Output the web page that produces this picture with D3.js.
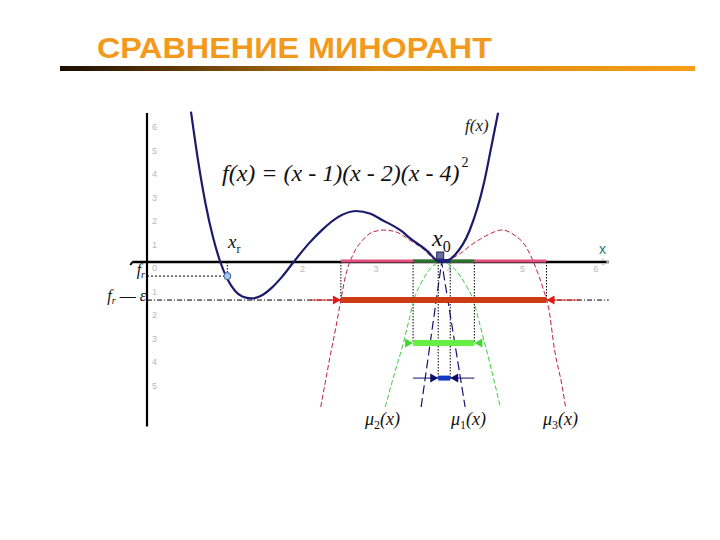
<!DOCTYPE html>
<html><head><meta charset="utf-8">
<script src="https://cdn.jsdelivr.net/npm/d3@7"></script>
<style>html,body{margin:0;padding:0;background:#fff;} svg{display:block;}</style>
</head><body>
<svg id="chart" width="720" height="540"></svg>
<script>
// ---------- data ----------
const titleText = "СРАВНЕНИЕ МИНОРАНТ";
const formulaText = "f(x) = (x - 1)(x - 2)(x - 4)";
const fX = [0.6,0.7,0.8,0.9,1.0,1.1,1.2,1.3,1.42,1.55,1.7,1.85,2.0,2.2,2.4,2.6,2.85,3.05,3.2,3.47,3.6,3.84,3.93,4.0,4.1,4.2,4.4,4.6,4.7,4.79];
const fY = [6.4,4.25,2.46,1.06,0,-0.74,-1.22,-1.47,-1.55,-1.45,-1.1,-0.6,0,0.76,1.4,1.9,2.17,2.05,1.8,1.32,0.98,0.42,0.12,0,0.06,0.3,1.33,3.4,4.95,6.35];
const mu3X = [2.37,2.438,2.507,2.575,2.644,2.712,2.808,2.945,3.082,3.233,3.397,3.6,3.78,3.9,4.0,4.1,4.2,4.3,4.42,4.55,4.66,4.84,5.01,5.18,5.29,5.41,5.48,5.56,5.66,5.71];
const mu3Y = [-6.17,-5.02,-3.87,-2.81,-1.62,-0.55,0.30,0.94,1.28,1.36,1.28,0.9,0.52,0.16,0,0.06,0.22,0.42,0.72,0.98,1.17,1.36,1.15,0.6,-0.13,-1.19,-1.96,-3.74,-5.23,-6.17];
const mu2X = [3.25,3.38,3.49,3.58,3.64,3.74,3.83,3.93,4.02,4.12,4.22,4.33,4.45,4.56,4.70,4.82];
const mu2Y = [-6.17,-4.7,-3.53,-2.4,-1.62,-0.9,-0.42,-0.1,0,-0.1,-0.38,-0.88,-1.62,-2.89,-4.6,-6.17];
const mu1X = [3.74,4.02,4.34];
const mu1Y = [-6.17,0,-6.17];
const muNames = ["μ2(x)","μ1(x)","μ3(x)"];
const intervalLo = [2.645, 3.63, 3.973];   // red, green, navy
const intervalHi = [5.45, 4.466, 4.137];
const intervalLevel = [-1.62, -3.45, -4.94];
const outerLo = [2.23, null, 3.63];
const outerHi = [5.90, null, 4.466];
const xr = 1.096, fr = -0.6, frEps = -1.62, x0 = 4.0;
const yTicks = [6,5,4,3,2,1,0,-1,-2,-3,-4,-5];
const yTickLabels = ["6","5","4","3","2","1","0","1","2","3","4","5"];
const xTicks = [2,3,4,5,6];
const xTickLabels = ["2","3","4","5","6"];

// ---------- scales ----------
const svg = d3.select("#chart");
const x = d3.scaleLinear().domain([0, 6]).range([147, 147 + 6 * 73.3]);
const y = d3.scaleLinear().domain([0, 6]).range([262, 262 - 6 * 23.5]);

// ---------- title ----------
const defs = svg.append("defs");
const grad = defs.append("linearGradient").attr("id","bar").attr("x1","0").attr("x2","1");
grad.append("stop").attr("offset","0").attr("stop-color","#1a0c00");
grad.append("stop").attr("offset","0.5").attr("stop-color","#d5850f");
grad.append("stop").attr("offset","1").attr("stop-color","#f59e16");
svg.append("text").attr("x",97).attr("y",58)
  .attr("font-family","'Liberation Sans', Arial, sans-serif").attr("font-weight","bold")
  .attr("font-size",30).attr("fill","#f39a1c")
  .attr("textLength",395).attr("lengthAdjust","spacingAndGlyphs").text(titleText);
svg.append("rect").attr("x",60).attr("y",66).attr("width",635).attr("height",5).attr("fill","url(#bar)");

// ---------- axes ----------
const axisG = svg.append("g");
axisG.append("line").attr("x1",x(0)).attr("x2",x(0)).attr("y1",y(6.34)).attr("y2",y(-7.0))
  .attr("stroke","#000").attr("stroke-width",2.2);
axisG.append("line").attr("x1",x(-0.2)).attr("x2",x(6.3)).attr("y1",y(0)).attr("y2",y(0))
  .attr("stroke","#000").attr("stroke-width",2.5);
axisG.append("path").attr("d",`M${x(-0.2)},${y(0)} l-2,3`).attr("stroke","#000").attr("stroke-width",2).attr("fill","none");
axisG.append("path").attr("d",`M${x(6.3)-7},${y(0)-3} L${x(6.3)},${y(0)} L${x(6.3)-7},${y(0)+3}`)
  .attr("stroke","#bbb").attr("fill","none").attr("stroke-width",1);

const tickFont = "'Liberation Sans', Arial, sans-serif";
axisG.selectAll("text.yt").data(yTicks).join("text").attr("class","yt")
  .attr("x", x(0) + 5).attr("y", d => y(d) + 7).attr("dominant-baseline","middle")
  .attr("font-family",tickFont).attr("font-size",9).attr("fill","#b8b8b8")
  .text((d,i) => yTickLabels[i]);
axisG.selectAll("text.xt").data(xTicks).join("text").attr("class","xt")
  .attr("x", d => x(d) + 9).attr("y", y(0) + 8).attr("text-anchor","middle").attr("dominant-baseline","middle")
  .attr("font-family",tickFont).attr("font-size",9).attr("fill","#b8b8b8")
  .text((d,i) => xTickLabels[i]);

// ---------- helper lines ----------
svg.append("line").attr("x1",x(0)).attr("x2",x(xr)).attr("y1",y(fr)).attr("y2",y(fr))
  .attr("stroke","#000").attr("stroke-width",1).attr("stroke-dasharray","2,2");
svg.append("line").attr("x1",x(xr)).attr("x2",x(xr)).attr("y1",y(0)).attr("y2",y(fr))
  .attr("stroke","#000").attr("stroke-width",1).attr("stroke-dasharray","1.5,1.5");
svg.append("line").attr("x1",x(0)).attr("x2",x(6.3)).attr("y1",y(frEps)).attr("y2",y(frEps))
  .attr("stroke","#000").attr("stroke-width",1).attr("stroke-dasharray","5,2,1,2");

const vDots = [];
intervalLo.forEach((lo,i) => { vDots.push({xv:lo, lv:intervalLevel[i]}); vDots.push({xv:intervalHi[i], lv:intervalLevel[i]}); });
svg.selectAll("line.vd").data(vDots).join("line").attr("class","vd")
  .attr("x1",d=>x(d.xv)).attr("x2",d=>x(d.xv)).attr("y1",y(0)).attr("y2",d=>y(d.lv))
  .attr("stroke","#000").attr("stroke-width",1).attr("stroke-dasharray","1.5,1.5");

// ---------- curves ----------
const zip = (a,b) => a.map((v,i)=>[v,b[i]]);
const smooth = d3.line().x(d=>x(d[0])).y(d=>y(d[1])).curve(d3.curveMonotoneX);
const straight = d3.line().x(d=>x(d[0])).y(d=>y(d[1]));
svg.append("path").attr("d", smooth(zip(mu3X,mu3Y)))
  .attr("fill","none").attr("stroke","#c0203a").attr("stroke-width",1).attr("stroke-dasharray","5,2.5");
svg.append("path").attr("d", smooth(zip(mu2X,mu2Y)))
  .attr("fill","none").attr("stroke","#3ccc3c").attr("stroke-width",1).attr("stroke-dasharray","5,2.5");
svg.append("path").attr("d", straight(zip(mu1X,mu1Y)))
  .attr("fill","none").attr("stroke","#14146e").attr("stroke-width",1.2).attr("stroke-dasharray","9,4");

const axisColors = ["#e0507e","#1e7a2a","#26268e"];
const axisWidths = [3,3,4];
svg.selectAll("line.ax").data(intervalLo).join("line").attr("class","ax")
  .attr("x1",d=>x(d)).attr("x2",(d,i)=>x(intervalHi[i])).attr("y1",y(0)-1).attr("y2",y(0)-1)
  .attr("stroke",(d,i)=>axisColors[i]).attr("stroke-width",(d,i)=>axisWidths[i]);

svg.append("path").attr("d", smooth(zip(fX,fY)))
  .attr("fill","none").attr("stroke","#1b1b6c").attr("stroke-width",2.2);

// ---------- interval bars ----------
const barColors = ["#cc3c12","#66ee44","#1238c8"];
const arrowColors = ["#e01818","#3edc30","#0c0c70"];
const shaftColors = ["#e02020",null,"#0c0c70"];
const barWidths = [6,6,5];
outerLo.forEach((o,i) => {
  if (o === null) return;
  svg.append("line").attr("x1",x(o)).attr("x2",x(outerHi[i])).attr("y1",y(intervalLevel[i])).attr("y2",y(intervalLevel[i]))
    .attr("stroke",shaftColors[i]).attr("stroke-width",1);
});
svg.selectAll("line.bar").data(intervalLo).join("line").attr("class","bar")
  .attr("x1",d=>x(d)).attr("x2",(d,i)=>x(intervalHi[i])).attr("y1",(d,i)=>y(intervalLevel[i])).attr("y2",(d,i)=>y(intervalLevel[i]))
  .attr("stroke",(d,i)=>barColors[i]).attr("stroke-width",(d,i)=>barWidths[i]);
intervalLo.forEach((lo,i) => {
  const yy = y(intervalLevel[i]), xl = x(lo), xh = x(intervalHi[i]);
  svg.append("path").attr("d",`M${xl},${yy} L${xl-8},${yy-4.5} L${xl-8},${yy+4.5} Z`).attr("fill",arrowColors[i]);
  svg.append("path").attr("d",`M${xh},${yy} L${xh+8},${yy-4.5} L${xh+8},${yy+4.5} Z`).attr("fill",arrowColors[i]);
});

// ---------- markers ----------
svg.append("circle").attr("cx",x(xr)).attr("cy",y(fr)).attr("r",3.5)
  .attr("fill","#a8c8ec").attr("stroke","#3a5a9a").attr("stroke-width",1);
svg.append("rect").attr("x",x(x0)-3.5).attr("y",y(0)-10).attr("width",7).attr("height",7)
  .attr("fill","#66709a").attr("stroke","#20206a").attr("stroke-width",1);

// ---------- labels ----------
const serif = "'Liberation Serif', 'Times New Roman', serif";
const ft = svg.append("text").attr("x",222).attr("y",181).attr("font-family",serif)
  .attr("font-size",24).attr("fill","#111");
ft.append("tspan").attr("font-style","italic").text(formulaText);
ft.append("tspan").attr("dx",2).attr("dy",-14).attr("font-size",14).text("2");

svg.append("text").attr("x",465).attr("y",131).attr("font-family",serif).attr("font-style","italic")
  .attr("font-size",17).attr("fill","#222").text("f(x)");

function subLabel(xp, yp, main, sub, size, subSize) {
  const t = svg.append("text").attr("x",xp).attr("y",yp).attr("font-family",serif)
    .attr("font-size",size).attr("fill","#111");
  t.append("tspan").attr("font-style","italic").text(main);
  t.append("tspan").attr("dy",size*0.25).attr("font-size",subSize).text(sub);
  return t;
}
subLabel(228, 248, "x", "r", 19, 12);
subLabel(432, 246, "x", "0", 24, 16);

const t1 = svg.append("text").attr("x",145).attr("y",275).attr("text-anchor","end").attr("font-family",serif).attr("font-size",16).attr("fill","#111");
t1.append("tspan").attr("font-style","italic").text("f");
t1.append("tspan").attr("dy",3).attr("font-size",10).attr("font-style","italic").text("r");
const t2 = svg.append("text").attr("x",146).attr("y",301).attr("text-anchor","end").attr("font-family",serif).attr("font-size",16).attr("fill","#111");
t2.append("tspan").attr("font-style","italic").text("f");
t2.append("tspan").attr("dy",3).attr("font-size",10).attr("font-style","italic").text("r");
t2.append("tspan").attr("dy",-3).text(" — ");
t2.append("tspan").attr("font-style","italic").text("ε");

svg.append("text").attr("x",599).attr("y",254).attr("font-family",tickFont).attr("font-size",14)
  .attr("fill","#1f7b7b").text("x");

const muX = [365, 451, 543];
muNames.forEach((m,i) => {
  const t = svg.append("text").attr("x",muX[i]).attr("y",425).attr("font-family",serif).attr("font-size",18).attr("fill","#111");
  t.append("tspan").attr("font-style","italic").text(m[0]);
  t.append("tspan").attr("dy",4).attr("font-size",12).text(m[1]);
  t.append("tspan").attr("dy",-4).attr("font-style","italic").text(m.slice(2));
});
</script>
</body></html>
